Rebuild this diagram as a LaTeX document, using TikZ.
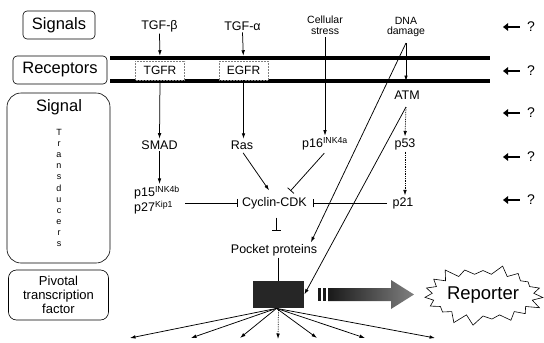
\documentclass[tikz,border=0pt]{standalone}
\usepackage{fontspec}
\setmainfont{Liberation Sans}
\usetikzlibrary{arrows.meta,shapes.symbols}

\begin{document}
\begin{tikzpicture}[x=1pt, y=-1pt, line width=0.75pt, >={Latex[length=5.5pt,width=3.6pt]},
		side/.style={draw, line width=0.6pt, rounded corners=4pt, inner sep=0pt, font=\fontsize{16.5}{17}\selectfont},
		lbl/.style={inner sep=1.5pt, font=\fontsize{12.5}{15}\selectfont},
		small/.style={inner sep=1pt, align=center, font=\fontsize{10.5}{10.5}\selectfont},
		rcpt/.style={draw=black!50, densely dotted, line width=0.5pt, fill=white, minimum width=49pt, minimum height=19pt, inner sep=0pt, font=\fontsize{12}{12}\selectfont},
		memb/.style={line width=3.5pt},
		inh/.style={-{Bar[width=8.5pt]}},
		qarr/.style={-{Triangle[length=5pt,width=7.5pt]}, line width=2.6pt}]
	\useasboundingbox (0,0) rectangle (544,343);
	% left column
	\node[side, minimum width=72pt, minimum height=28pt] (sgs) at (59,25) {Signals};
	\node[side, minimum width=94pt, minimum height=28pt] (rcs) at (60,70) {Receptors};
	\node[side, rounded corners=14pt, minimum width=103pt, minimum height=170pt] (trd) at (58.5,178) {};
	\node[inner sep=1pt, font=\fontsize{16.5}{17}\selectfont] (sgl) at (59,107) {Signal};
	\node[inner sep=0pt, align=center, font=\fontsize{9}{11.1}\selectfont] (trl) at (59,188) {T\\r\\a\\n\\s\\d\\u\\c\\e\\r\\s};
	\node[side, rounded corners=8pt, minimum width=100pt, minimum height=50pt, align=center, font=\fontsize{13}{14}\selectfont] (ptf) at (58.5,295) {Pivotal\\transcription\\factor};
	% membrane
	\draw[memb] (110,58) -- (490,58);
	\draw[memb] (110,81) -- (490,81);
	% signals
	\node[lbl] (tgfb) at (159.5,26) {TGF-β};
	\node[lbl] (tgfa) at (242.5,26) {TGF-α};
	\node[small] (cst) at (325,25) {Cellular\\stress};
	\node[small] (dna) at (406,27) {DNA\\damage};
	\coordinate (dsp) at (406,43);
	\coordinate (dmb) at (406,81);
	% receptors
	\node[rcpt] (tgfr) at (160,70.5) {TGFR};
	\node[rcpt] (egfr) at (243.5,70.5) {EGFR};
	% transducers
	\node[lbl] (smad) at (159.5,145) {SMAD};
	\node[lbl] (ras) at (242,145) {Ras};
	\node[lbl] (p16) at (325,144) {p16\textsuperscript{INK4a}};
	\node[lbl] (atm) at (407,95) {ATM};
	\coordinate (asp) at (406,107);
	\node[lbl] (p53) at (405,144) {p53};
	\node[lbl, align=left] (p15) at (157,200) {p15\textsuperscript{INK4b}\\p27\textsuperscript{Kip1}};
	\node[lbl] (cyc) at (274.5,203) {Cyclin-CDK};
	\node[lbl] (p21) at (403,203) {p21};
	\node[lbl] (pp) at (274,250) {Pocket proteins};
	% transcription factor and reporter
	\node[fill=black!85, minimum width=51pt, minimum height=27pt, inner sep=0pt] (tf) at (278.5,294.5) {};
	\fill[black!90] (318,288) rectangle (321,301);
	\fill[black!90] (323,288) rectangle (326,301);
	\shade[left color=black!90, right color=black!50] (328,288) -- (391,288) -- (391,280) -- (414,294.5) -- (391,309) -- (391,301) -- (328,301) -- cycle;
	\node[starburst, draw, line width=0.6pt, fill=white, starburst points=19, starburst point height=11pt, random starburst=3, minimum width=112pt, minimum height=64pt, inner sep=0pt, font=\fontsize{18.5}{18.5}\selectfont] (rep) at (483,295) {Reporter};
	% connectors
	\draw[->, shorten >=5pt] (tgfb.south) -- (tgfr.north);
	\draw[->, shorten >=5pt] (tgfa.south) -- (egfr.north);
	\draw[->] (tgfr.south) -- (smad.north);
	\draw[->] (egfr.south) -- (egfr.south |- ras.north);
	\draw[->, shorten <=2pt] (cst.south) -- (p16.north);
	\draw[->] (dsp) -- (dmb);
	\draw[->] (dsp) -- ([xshift=-8pt]pp.north east);
	\draw[->, densely dotted] (asp) -- (p53.north);
	\draw[->] (asp) -- (tf.east);
	\draw[->] (smad.south) -- (smad.south |- p15.north);
	\draw[->, shorten <=2pt, shorten >=6pt] (ras.south) -- ([xshift=-2pt]cyc.north);
	\draw[inh, shorten <=1pt, shorten >=6pt] (p16.south) -- ([xshift=12pt]cyc.north);
	\draw[->, densely dotted] (p53.south) -- (p53.south |- p21.north);
	\draw[inh, shorten <=3.5pt, shorten >=2.5pt] (p15.east |- cyc.west) -- (cyc.west);
	\draw[inh, shorten <=3.5pt, shorten >=4.5pt] (p21.west) -- (cyc.east);
	\draw[inh, shorten <=7pt, shorten >=12pt] ([xshift=2pt]cyc.south) -- ([xshift=2pt]cyc.south |- pp.north);
	\draw (tf.north |- pp.south) -- (tf.north);
	% targets
	\foreach \x [count=\k] in {130,191,240,317,365,435} {
		\coordinate (f\k) at (\x,338);
		\draw[->] ([xshift=-2pt]tf.south) -- (f\k);
	}
	\coordinate (f0) at (278,339);
	\draw[->, densely dotted] (tf.south) -- (f0);
	% question marks
	\foreach \y [count=\i] in {27,71,113,157,200} {
		\node[inner sep=1pt, font=\fontsize{14}{14}\selectfont] (q\i) at (531,\y) {?};
		\coordinate (qa\i) at (503,\y);
		\draw[qarr, shorten <=6pt] (q\i.west) -- (qa\i);
	}
\end{tikzpicture}
\end{document}
